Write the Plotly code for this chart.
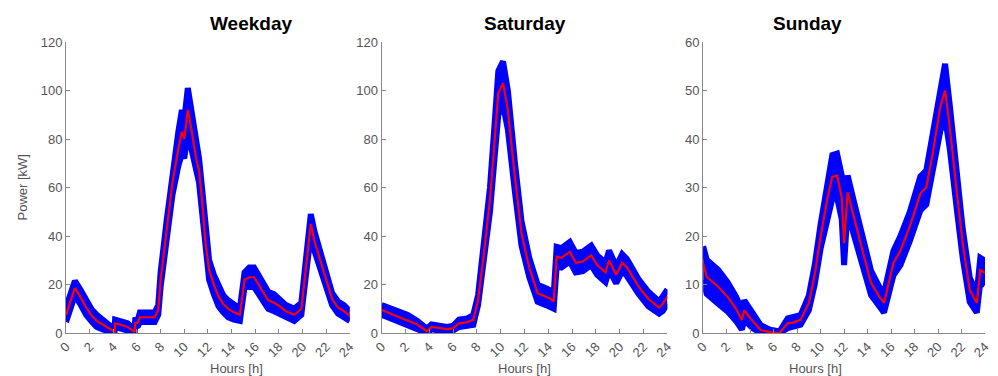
import plotly.graph_objects as go

# ---------------- data ----------------
titles = ["Weekday", "Saturday", "Sunday"]

wd_hours = [0, 0.4, 0.75, 1.2, 1.7, 2.2, 2.6, 3.1, 3.6, 4.1, 4.15, 4.6, 5.2, 5.8, 5.85, 6.1, 6.25, 6.8,
            7.5, 7.8, 8.0, 8.5, 9.0, 9.5, 9.8, 10.0, 10.3, 10.6, 11.0, 11.25, 11.5, 11.8, 12.1, 12.5,
            12.9, 13.3, 13.7, 14.2, 14.7, 15.1, 15.5, 15.9, 16.5, 17.1, 17.6, 18.1, 18.6, 19.3, 19.9,
            20.3, 20.7, 21.0, 21.5, 22.0, 22.5, 23.0, 23.5, 24.0]
wd_mean = [7.5, 13, 18.5, 15, 10.5, 7, 5, 3.5, 2, 0.5, 4, 3.5, 2.5, 0.5, 4, 4.5, 6.5, 6.5,
           6.5, 9.5, 22, 42, 62, 76, 83, 80, 92, 84, 72, 67, 55, 37, 26, 20,
           15, 12, 10, 8.5, 7.5, 22, 23, 23, 18, 13.5, 12.5, 11, 9, 7.5, 10,
           28, 45, 38, 30, 22, 14, 10.5, 9, 7]
wd_spread = [3, 3, 3, 3, 3, 2.5, 2.5, 2, 1.5, 1, 1.5, 1.5, 1.5, 1, 1.5, 1.5, 2, 2,
             2, 2, 3, 4, 5, 7, 9, 8, 9, 8, 6, 5, 5, 4, 4, 4,
             4, 3.5, 3.5, 3, 2.5, 3, 4, 4, 3.5, 3.5, 3.5, 3, 2.5, 2.5, 2.5,
             3, 4, 4, 3.5, 3, 2.5, 2.5, 2.5, 2]

sa_hours = [0, 1.0, 2.2, 3.0, 3.8, 4.2, 5.0, 5.5, 6.0, 6.5, 7.2, 7.7, 8.1, 8.6, 9.1, 9.5, 9.8, 10.2,
            10.6, 11.2, 11.75, 12.4, 13.1, 13.8, 14.2, 14.45, 14.7, 15.1, 15.8, 16.3, 16.9, 17.6,
            18.1, 18.8, 19.1, 19.7, 20.2, 20.6, 21.6, 22.4, 23.3, 23.6, 24.0]
sa_mean = [9.5, 7.5, 5.4, 3.5, 0.8, 2.5, 2, 1.5, 2, 4, 4.5, 5.4, 13.6, 33, 55, 80, 99, 103,
           92, 64, 41, 27, 16.4, 15, 14, 13, 31.5, 31, 33.5, 29, 29.5, 32,
           28, 25, 30, 24, 29, 27, 19, 14, 10.5, 12, 15]
sa_spread = [2, 2, 2, 1.5, 1, 1, 1, 1, 1, 1.5, 1.5, 2, 2, 3, 5, 7, 9, 9,
             8, 6, 5, 4, 3.5, 3.5, 3.5, 3, 4, 4, 4, 4, 4, 4,
             4, 4, 4, 3.5, 3.5, 3.5, 3, 3, 2.5, 3, 3]

su_hours = [0, 0.3, 1.3, 2.1, 2.8, 3.3, 3.5, 4.2, 4.9, 5.7, 6.5, 7.2, 7.7, 8.3, 9.0, 9.5, 10.0,
            10.6, 11.0, 11.4, 11.8, 12.0, 12.3, 12.8, 13.4, 14.3, 15.0, 15.4, 16.2, 16.8, 17.6,
            18.5, 19.0, 19.5, 20.2, 20.6, 21.0, 21.6, 22.1, 22.7, 23.3, 23.6, 24.0]
su_mean = [14.4, 11.6, 9.5, 7.4, 5, 2.7, 4.7, 2.5, 0.6, 0.2, 0, 2, 2.2, 2.7, 6.2, 12, 19.9,
           28, 32.2, 32.5, 28, 18.5, 29, 24, 18.5, 10.3, 7.5, 6.2, 14.4, 17, 22,
           28.8, 30, 36.4, 46.7, 50, 42.5, 29, 18.5, 8.9, 6.2, 13, 12.4]
su_spread = [3.5, 3.5, 3.5, 3, 2.5, 2, 2, 1.5, 1, 0.5, 0.3, 1, 1, 1, 1.5, 2, 2.5,
             3.5, 4.5, 4.5, 4.5, 4.5, 3.5, 3.5, 3, 2.5, 2, 2, 2.5, 3, 3,
             3.5, 3.5, 4, 5, 5.5, 4.5, 3.5, 3, 2.5, 2, 2.5, 2.5]

x_ticks = list(range(0, 25, 2))
y_ranges = [[0, 120], [0, 120], [0, 60]]
y_ticks = [[0, 20, 40, 60, 80, 100, 120], [0, 20, 40, 60, 80, 100, 120], [0, 10, 20, 30, 40, 50, 60]]

panels = [(wd_hours, wd_mean, wd_spread), (sa_hours, sa_mean, sa_spread), (su_hours, su_mean, su_spread)]

# ---------------- figure ----------------
W, H = 998, 376
ml, mr, mt, mb = 66, 6, 42, 43
pw = W - ml - mr
domains = [[0, 286 / pw], [318 / pw, 606 / pw], [642 / pw, 1.0]]

fig = go.Figure()
BLUE = "#0000ff"
RED = "#ff0000"
GRAY = "#555555"
FONT = "Liberation Sans, Arial, sans-serif"

for i, (hrs, mean, spread) in enumerate(panels):
    xa = "x" if i == 0 else f"x{i+1}"
    ya = "y" if i == 0 else f"y{i+1}"
    upper = [m + s for m, s in zip(mean, spread)]
    lower = [max(m - s, 0) for m, s in zip(mean, spread)]
    fig.add_trace(go.Scatter(x=hrs, y=upper, mode="lines", line=dict(color=BLUE, width=6),
                             xaxis=xa, yaxis=ya, showlegend=False, hoverinfo="skip", cliponaxis=True))
    fig.add_trace(go.Scatter(x=hrs, y=lower, mode="lines", line=dict(color=BLUE, width=6),
                             fill="tonexty", fillcolor=BLUE,
                             xaxis=xa, yaxis=ya, showlegend=False, hoverinfo="skip", cliponaxis=True))
    fig.add_trace(go.Scatter(x=hrs, y=mean, mode="lines", line=dict(color=RED, width=2.2),
                             xaxis=xa, yaxis=ya, showlegend=False))

    axis_common = dict(showline=True, linecolor="#888888", linewidth=1, ticks="inside",
                       ticklen=4, tickcolor="#888888", showgrid=False, zeroline=False,
                       tickfont=dict(family=FONT, size=13, color=GRAY))
    fig.update_layout({
        ("xaxis" if i == 0 else f"xaxis{i+1}"): dict(domain=domains[i], range=[0, 24], tickvals=x_ticks,
                                                    tickangle=-45, anchor=ya, **axis_common),
        ("yaxis" if i == 0 else f"yaxis{i+1}"): dict(domain=[0, 1], range=y_ranges[i], tickvals=y_ticks[i],
                                                    anchor=xa, **axis_common),
    })
    xc = (domains[i][0] + domains[i][1]) / 2
    fig.add_annotation(x=xc, y=1, xref="paper", yref="paper", text=f"<b>{titles[i]}</b>",
                       showarrow=False, yanchor="bottom", yshift=6,
                       font=dict(family=FONT, size=19, color="black"))
    fig.add_annotation(x=xc, y=0, xref="paper", yref="paper", text="Hours [h]",
                       showarrow=False, yanchor="middle", yshift=-35,
                       font=dict(family=FONT, size=13, color=GRAY))

fig.add_annotation(x=0, y=0.5, xref="paper", yref="paper", text="Power [kW]", textangle=-90,
                   showarrow=False, xanchor="center", xshift=-44,
                   font=dict(family=FONT, size=13, color=GRAY))

fig.update_layout(width=W, height=H, margin=dict(l=ml, r=mr, t=mt, b=mb),
                  paper_bgcolor="white", plot_bgcolor="white")

fig.write_html("out.html")
